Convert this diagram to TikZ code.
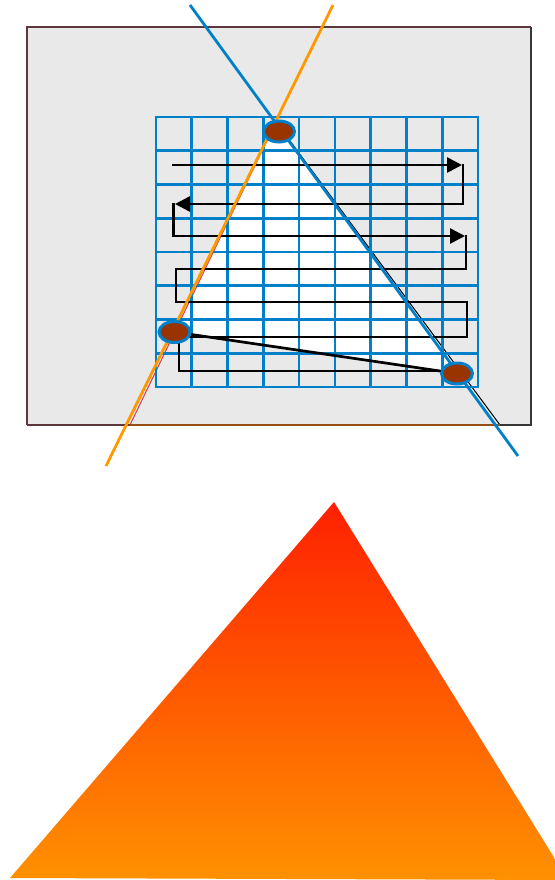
\documentclass[tikz,border=0pt]{standalone}
\usetikzlibrary{shapes.geometric,arrows.meta}
\definecolor{gridblue}{RGB}{0,128,200}
\definecolor{lineorange}{RGB}{255,153,0}
\definecolor{dotbrown}{RGB}{153,51,0}
\definecolor{panelgray}{RGB}{233,233,233}
\definecolor{edgebrown}{RGB}{92,56,60}
\definecolor{edgedark}{RGB}{55,55,55}
\definecolor{baseorange}{RGB}{150,80,20}
\definecolor{thinred}{RGB}{210,60,90}
\definecolor{gradtop}{RGB}{255,32,0}
\definecolor{gradbot}{RGB}{255,145,0}
\begin{document}
\begin{tikzpicture}[x=1bp,y=-1bp,
  gridline/.style={draw=gridblue,line width=2.7bp,line cap=rect},
  snake/.style={draw=black,line width=2.7bp},
  snakearrow/.style={snake,-{Triangle[length=15bp,width=15bp]}},
  ray/.style={line width=2.8bp},
  thinedge/.style={line width=1bp},
  dot/.style={ellipse,draw=gridblue,line width=3bp,fill=dotbrown,
    minimum width=31bp,minimum height=21bp,inner sep=0pt}]
\useasboundingbox (0,0) rectangle (555,880);
% panel
\fill[panelgray] (27,27) rectangle (531,425);
\draw[edgebrown,line width=1.8bp] (27,425) -- (27,27) -- (531,27);
\draw[edgedark,line width=1.8bp] (531,27) -- (531,425) -- (500,425);
\draw[edgebrown,line width=1.8bp] (27,425) -- (130,425);
% large triangle outline and white area
\coordinate (A) at (276,122);
\coordinate (BL) at (130,425);
\coordinate (BR) at (500,425);
\coordinate (Lc) at (174.5,332);
\coordinate (Rc) at (457,373.5);
\fill[white] (A) -- (175,332) -- (460,373.5) -- cycle;
\draw[thinedge,thinred] (A) -- (BL);
\draw[thinedge,black] (A) -- (BR);
\draw[baseorange,line width=1.8bp] (BL) -- (BR);
% grid
\foreach \i in {0,...,9} \draw[gridline] ({156+\i*35.78},117) -- ({156+\i*35.78},387);
\foreach \j in {0,...,8} \draw[gridline] (156,{117+\j*33.75}) -- (478,{117+\j*33.75});
% snake path
\draw[snakearrow] (172,165) -- (462,165);
\draw[snake] (463,163.7) -- (463,205.3);
\draw[snakearrow] (463,204) -- (175,204);
\draw[snake] (173.5,202.7) -- (173.5,237.3);
\draw[snakearrow] (173.5,236) -- (465,236);
\draw[snake] (466,234.7) -- (466,269) -- (176,269) -- (176,302) -- (467,302) -- (467,337) -- (179,337) -- (179,371) -- (442,371);
% rays
\coordinate (bT) at (190,5);
\coordinate (bB) at (518,456);
\coordinate (oT) at (333,5);
\coordinate (oB) at (106,466);
\draw[ray,gridblue] (bT) -- (bB);
\draw[ray,lineorange] (oT) -- (oB);
% dots
\node[dot] (top) at (279,131.5) {};
\node[dot] (left) at (Lc) {};
\node[dot] (right) at (Rc) {};
\draw[line width=2.7bp] (left) -- (right);
% gradient triangle
\coordinate (gA) at (334,502);
\coordinate (gL) at (10,878);
\coordinate (gR) at (568,880);
\begin{scope}
\clip (0,0) rectangle (555,880);
\shade[top color=gradtop,bottom color=gradbot] (gA) -- (gL) -- (gR) -- cycle;
\end{scope}
\end{tikzpicture}
\end{document}
